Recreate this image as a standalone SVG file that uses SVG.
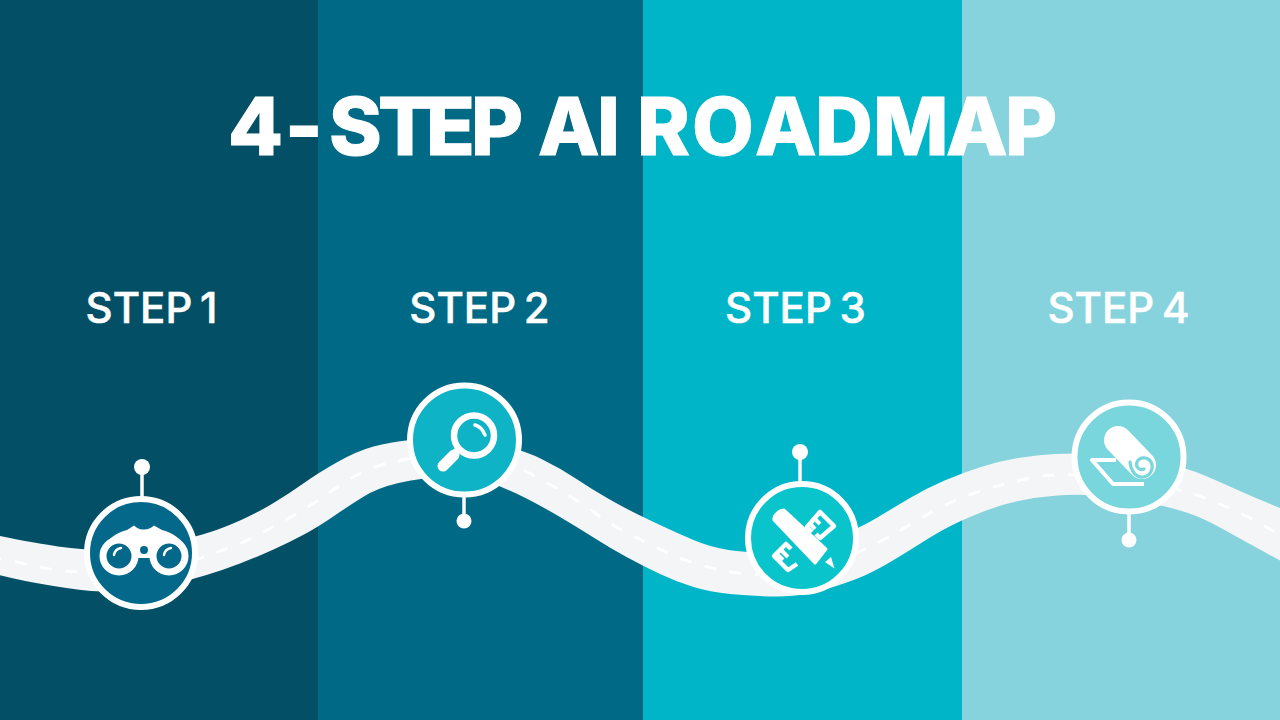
<svg xmlns="http://www.w3.org/2000/svg" width="1280" height="720" viewBox="0 0 1280 720">
<style>
.title{font-family:"Inter","Liberation Sans",sans-serif;font-weight:800;font-size:80px;fill:#fff;stroke:#fff;stroke-width:1}
.step{font-family:"Inter","Liberation Sans",sans-serif;font-weight:500;font-size:42px;letter-spacing:0;word-spacing:-3.5px;fill:#fff;stroke:#fff;stroke-width:0.5;text-anchor:middle}
.ring{stroke:#fff;stroke-width:6}
.pin{stroke:#fff;stroke-width:3.5}
.w{fill:#fff}
.ol{fill:none;stroke:#fff;stroke-linejoin:round}
</style>
<rect x="0" y="0" width="318" height="720" fill="#024f66"/>
<rect x="318" y="0" width="325" height="720" fill="#006985"/>
<rect x="643" y="0" width="319" height="720" fill="#00b5c8"/>
<rect x="962" y="0" width="318" height="720" fill="#87d3dd"/>
<text class="title" y="155" x="228 285 329 378 426 471 520 538 597 625 637 692 755 815 873 946 1005">4-STEP AI ROADMAP</text>
<text class="step" x="151.5" y="323">STEP 1</text>
<text class="step" x="479.5" y="323">STEP 2</text>
<text class="step" x="795.5" y="323">STEP 3</text>
<text class="step" x="1118.5" y="323">STEP 4</text>
<g id="connectors">
<path id="road" fill="#f4f5f7" d="M-10,534 Q33,543 58,546.5 Q83,550 111.5,550 Q140,550 169,543 Q198,536 210.5,532 Q223,528 240,520.5 Q257,513 273.5,503 Q290,493 304,483 Q318,473 337.5,462 Q357,451 373.5,446.5 Q390,442 410,440 Q430,438 450,438 Q470,438 496.5,444 Q523,450 541.5,459 Q560,468 576.5,479 Q593,490 608,498.5 Q623,507 633,512 Q643,517 660,525 Q677,533 693.5,540 Q710,547 728.5,550 Q747,553 773.5,552.5 Q800,552 830,540 Q860,528 876.5,518 Q893,508 910,498 Q927,488 944.5,480.5 Q962,473 981,467 Q1000,461 1018.5,458 Q1037,455 1055,454 Q1073,453 1101.5,454 Q1130,455 1158.5,461.5 Q1187,468 1203.5,475 Q1220,482 1236.5,489.5 Q1253,497 1271.5,504.5 L1290,512 L1290,566 Q1237,537 1220,527.5 Q1203,518 1186.5,512.5 Q1170,507 1145,502.5 Q1120,498 1098.5,496 Q1077,494 1057,495.5 Q1037,497 1018.5,501 Q1000,505 981,512.5 Q962,520 949.5,526.5 Q937,533 922,542.5 Q907,552 892,561 Q877,570 863.5,576 Q850,582 825,589.5 Q800,597 775,596.5 Q750,596 730,594 Q710,592 693.5,587 Q677,582 660,574 Q643,566 626.5,557 Q610,548 593.5,537.5 Q577,527 560,517 Q543,507 526.5,498.5 Q510,490 490,482.5 Q470,475 445,476.5 Q420,478 398.5,483 Q377,488 363,497 Q350,505 334,516 Q318,527 304,534.5 Q290,542 273.5,549.5 Q257,557 240,563.5 Q223,570 206.5,575 Q190,580 170,585 Q150,590 125,591.5 Q100,593 66.5,588 Q33,583 11.5,578 L-10,573 Z"/>
<path id="lane" fill="none" stroke="#fff" stroke-width="2.8" stroke-dasharray="12 13.6" d="M-10,556 Q7,560 21,563 Q35,566 47.5,568.5 Q60,571 73,571.5 Q86,572 113,572.5 Q140,573 168.5,566.5 Q197,560 208.5,555.5 Q220,551 232.5,546.5 Q245,542 257,535.5 Q269,529 281,522.5 Q293,516 304.5,509 Q316,502 326.5,494.5 Q337,487 348.5,480 Q360,473 372.5,468 Q385,463 402.5,460 Q420,457 445,456 Q470,455 495,461.5 Q520,468 531,474 Q542,480 553.5,486.5 Q565,493 576,500 Q587,507 598,515 Q609,523 621,529.5 Q633,536 645,542 Q657,548 669,553.5 Q681,559 694,563 Q707,567 720,570 Q733,573 754,574.5 Q775,576 802.5,569 Q830,562 846,556.5 Q862,551 874.5,544.5 Q887,538 898.5,531.5 Q910,525 921.5,518 Q933,511 945.5,505 Q958,499 970.5,494.5 Q983,490 995.5,486.5 Q1008,483 1021,480 Q1034,477 1047.5,475.5 Q1061,474 1093,475.5 Q1125,477 1159,485 Q1193,493 1205.5,498 Q1218,503 1230.5,508.5 Q1243,514 1254.5,520.5 Q1266,527 1278,533.5 L1290,540"/>
</g>
<g id="node1">
<line class="pin" x1="142" y1="467" x2="142" y2="498"/>
<circle class="w" cx="142" cy="467" r="8"/>
<circle class="ring" cx="141" cy="553" r="54" fill="#04688a"/>
<path class="w" d="M101,553 C105,539 118,532 127,530 L134,525.5 Q139,530 143,529.5 Q149,530 154,525.5 L162,530 C171,532 184,539 188,553 L170,564 L152,558 H137 L118,564 Z"/>
<circle cx="119" cy="556" r="16" fill="#04688a" stroke="#fff" stroke-width="7"/>
<circle cx="169" cy="556" r="16" fill="#04688a" stroke="#fff" stroke-width="7"/>
<circle cx="144" cy="550" r="4" fill="#04688a"/>
<path class="ol" stroke-width="2.4" stroke-linecap="round" d="M114,555 Q115,549 121,548 M164,555 Q165,549 171,548"/>
</g>
<g id="node2">
<line class="pin" x1="464" y1="496" x2="464" y2="521"/>
<circle class="w" cx="464" cy="521" r="7.5"/>
<circle class="ring" cx="464.5" cy="440" r="54.5" fill="#0fb3c6"/>
<circle class="ol" cx="474" cy="435.5" r="20" stroke-width="6.5"/>
<path class="ol" stroke-width="3.5" stroke-linecap="round" d="M475,425 Q482,427 485,435"/>
<line x1="458" y1="450" x2="452" y2="456" stroke="#fff" stroke-width="7"/>
<line x1="454" y1="455" x2="443" y2="466" stroke="#fff" stroke-width="11" stroke-linecap="round"/>
</g>
<g id="node3">
<line class="pin" x1="800" y1="452" x2="800" y2="483"/>
<circle class="w" cx="800" cy="452" r="8"/>
<circle class="ring" cx="802" cy="538" r="54" fill="#0ac4cc"/>
<path class="ol" stroke-width="4.5" d="M812,532 L807,527 L820,512 L834,526 L820,538 L816,534"/>
<path class="ol" stroke-width="4" d="M814,518 L820,524 M809,522 L815,529"/>
<path class="ol" stroke-width="4.5" d="M797,564 L788,570 L774,556 L786,544 L791,549"/>
<path class="ol" stroke-width="4" d="M781,550 L788,557 M777,554 L783,560"/>
<path class="w" d="M774,520 C773,516 779,510 784,510 L826,549 L815,563 Z" stroke="#fff" stroke-linejoin="round" stroke-width="3"/>
<path class="w" d="M825,562 L831,557 L834.5,568.5 Z"/>
</g>
<g id="node4">
<line class="pin" x1="1129" y1="512" x2="1129" y2="540"/>
<circle class="w" cx="1129" cy="540" r="7.5"/>
<circle class="ring" cx="1129" cy="457" r="54.5" fill="#78d6dc"/>
<path class="ol" stroke-width="4" d="M1116,460 H1092 L1113,484 H1144"/>
<line x1="1118" y1="440" x2="1142" y2="465" stroke="#fff" stroke-width="28" stroke-linecap="round"/>
<path fill="none" stroke="#78d6dc" stroke-width="3.2" stroke-linecap="round" d="M1130,462 C1131,472 1137,478 1143,477 C1151,476 1154,468 1151,462 C1148,457 1140,456 1137,462 C1135,467 1140,471 1144,469"/>
</g>
</svg>
